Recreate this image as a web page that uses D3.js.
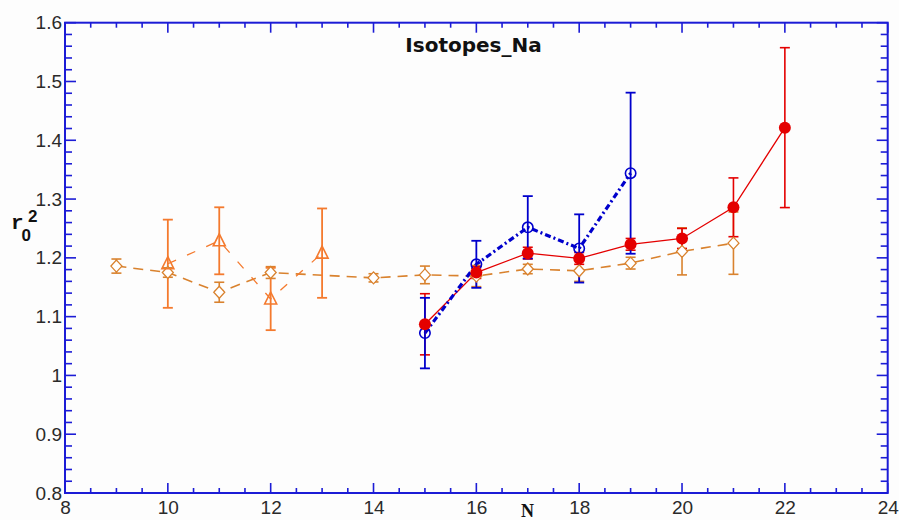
<!DOCTYPE html>
<html>
<head>
<meta charset="utf-8">
<script src="https://cdn.jsdelivr.net/npm/d3@7"></script>
<style>
  html, body { margin:0; padding:0; background:#fdfdfd; }
  svg { display:block; }
</style>
</head>
<body>
<svg id="chart" width="899" height="520"></svg>
<script>
// ---- data ----
const diamondN   = [9, 10, 11, 12, 14, 15, 16, 17, 18, 19, 20, 21];
const diamondVal = [1.186, 1.175, 1.1415, 1.175, 1.166, 1.171, 1.169, 1.181, 1.178, 1.191, 1.211, 1.225];
const diamondErr = [0.012, 0.008, 0.017, 0.01, 0.007, 0.015, 0.018, 0.008, 0.018, 0.01, 0.04, 0.053];

const triN   = [10, 11, 12, 13];
const triVal = [1.19, 1.229, 1.13, 1.208];
const triErr = [0.075, 0.057, 0.053, 0.076];

const redN   = [15, 16, 17, 18, 19, 20, 21, 22];
const redVal = [1.087, 1.175, 1.208, 1.199, 1.223, 1.233, 1.286, 1.4215];
const redErr = [0.052, 0.01, 0.01, 0.01, 0.01, 0.017, 0.05, 0.136];

const blueN   = [15, 16, 17, 18, 19];
const blueVal = [1.072, 1.189, 1.252, 1.216, 1.344];
const blueErr = [0.06, 0.04, 0.053, 0.058, 0.137];

const xTicks = [8, 10, 12, 14, 16, 18, 20, 22, 24];
const yTicks = [0.8, 0.9, 1.0, 1.1, 1.2, 1.3, 1.4, 1.5, 1.6];
const titleText = "Isotopes_Na";

// ---- layout ----
const svg = d3.select("#chart");
const L = 65, T = 22.7, R = 887.7, B = 493;
const x = d3.scaleLinear().domain([8, 24]).range([L, R]);
const y = d3.scaleLinear().domain([0.8, 1.6]).range([B, T]);

const axisCol = "#1c1cd6";
const cDiam = "#d9822e";
const cTri  = "#f47a2e";
const cRed  = "#e40000";
const cBlue = "#0000cc";

// frame
svg.append("rect").attr("x", L).attr("y", T).attr("width", R - L).attr("height", B - T)
  .attr("fill", "none").attr("stroke", axisCol).attr("stroke-width", 2);

// ticks (inward on all four sides)
const xMinor = d3.range(8, 24.001, 0.5);
const yMinor = d3.range(0.8, 1.6001, 0.02);
const tk = svg.append("g").attr("stroke", axisCol).attr("stroke-width", 1.6);
xMinor.forEach(v => {
  const major = Math.abs(v / 2 - Math.round(v / 2)) < 1e-6;
  const len = major ? 10 : 5;
  tk.append("line").attr("x1", x(v)).attr("x2", x(v)).attr("y1", B).attr("y2", B - len);
  tk.append("line").attr("x1", x(v)).attr("x2", x(v)).attr("y1", T).attr("y2", T + len);
});
yMinor.forEach(v => {
  const major = Math.abs(v * 10 - Math.round(v * 10)) < 1e-6;
  const len = major ? 11 : 7;
  tk.append("line").attr("x1", L).attr("x2", L + len).attr("y1", y(v)).attr("y2", y(v));
  tk.append("line").attr("x1", R).attr("x2", R - len).attr("y1", y(v)).attr("y2", y(v));
});

// tick labels via axis generators (lines hidden)
const fontFam = "'Liberation Sans', Arial, sans-serif";
const xAxis = svg.append("g").attr("transform", `translate(0,${B})`)
  .call(d3.axisBottom(x).tickValues(xTicks).tickSize(0).tickPadding(8).tickFormat(d3.format("d")));
xAxis.select(".domain").remove();
xAxis.selectAll("text").attr("font-family", fontFam).attr("font-size", 19).attr("fill", "#2a2a2a")
  .attr("dy", "0.71em");

const yAxis = svg.append("g").attr("transform", `translate(${L},0)`)
  .call(d3.axisLeft(y).tickValues(yTicks).tickSize(0).tickPadding(3)
    .tickFormat(d => (Math.abs(d - 1) < 1e-9 ? "1" : d3.format(".1f")(d))));
yAxis.select(".domain").remove();
yAxis.selectAll("text").attr("font-family", fontFam).attr("font-size", 19).attr("fill", "#2a2a2a");

// title
svg.append("text").attr("x", 473.5).attr("y", 51.5).attr("text-anchor", "middle")
  .attr("font-family", "'DejaVu Sans', Verdana, sans-serif").attr("font-weight", "bold")
  .attr("font-size", 20).attr("fill", "#111").text(titleText);

// axis titles
const yl = svg.append("text").attr("x", 11).attr("y", 229)
  .attr("font-weight", "bold").attr("fill", "#111");
yl.append("tspan").attr("font-family", "'Liberation Mono', 'Courier New', monospace").attr("font-size", 21).text("r");
yl.append("tspan").attr("font-family", fontFam).attr("font-size", 17).attr("dy", 12).attr("dx", -2).text("0");
yl.append("tspan").attr("font-family", fontFam).attr("font-size", 17).attr("dy", -19).attr("dx", -3).text("2");

svg.append("text").attr("x", 527.5).attr("y", 517).attr("text-anchor", "middle")
  .attr("font-family", "'Liberation Serif', 'Times New Roman', serif").attr("font-weight", "bold")
  .attr("font-size", 18).attr("fill", "#111").text("N");

// ---- series ----
const mk = (ns, vs, es) => ns.map((n, i) => ({ n, v: vs[i], e: es[i] }));
const dDiam = mk(diamondN, diamondVal, diamondErr);
const dTri  = mk(triN, triVal, triErr);
const dRed  = mk(redN, redVal, redErr);
const dBlue = mk(blueN, blueVal, blueErr);

const line = d3.line().x(d => x(d.n)).y(d => y(d.v));
const plot = svg.append("g");

plot.append("path").datum(dDiam).attr("d", line).attr("fill", "none")
  .attr("stroke", cDiam).attr("stroke-width", 1.6).attr("stroke-dasharray", "10,7");
plot.append("path").datum(dTri).attr("d", line).attr("fill", "none")
  .attr("stroke", cTri).attr("stroke-width", 1.3).attr("stroke-dasharray", "9,12");
plot.append("path").datum(dRed).attr("d", line).attr("fill", "none")
  .attr("stroke", cRed).attr("stroke-width", 1.3);
plot.append("path").datum(dBlue).attr("d", line).attr("fill", "none")
  .attr("stroke", cBlue).attr("stroke-width", 3.2).attr("stroke-dasharray", "6,3,2,3");

function errBars(data, col, w) {
  const g = plot.append("g").attr("stroke", col).attr("stroke-width", w);
  data.forEach(d => {
    const cx = x(d.n);
    g.append("line").attr("x1", cx).attr("x2", cx).attr("y1", y(d.v - d.e)).attr("y2", y(d.v + d.e));
    g.append("line").attr("x1", cx - 5).attr("x2", cx + 5).attr("y1", y(d.v - d.e)).attr("y2", y(d.v - d.e));
    g.append("line").attr("x1", cx - 5).attr("x2", cx + 5).attr("y1", y(d.v + d.e)).attr("y2", y(d.v + d.e));
  });
}
errBars(dDiam, cDiam, 1.6);
errBars(dTri, cTri, 1.8);
errBars(dRed, cRed, 1.6);
errBars(dBlue, cBlue, 1.8);

// markers
plot.append("g").selectAll("path").data(dDiam).join("path")
  .attr("d", d => { const cx = x(d.n), cy = y(d.v); return `M${cx},${cy-6}L${cx+5.5},${cy}L${cx},${cy+6}L${cx-5.5},${cy}Z`; })
  .attr("fill", "#fff").attr("stroke", cDiam).attr("stroke-width", 1.3);
plot.append("g").selectAll("path").data(dTri).join("path")
  .attr("d", d => { const cx = x(d.n), cy = y(d.v); return `M${cx},${cy-7}L${cx+6},${cy+5}L${cx-6},${cy+5}Z`; })
  .attr("fill", "none").attr("stroke", cTri).attr("stroke-width", 1.6);
plot.append("g").selectAll("circle").data(dBlue).join("circle")
  .attr("cx", d => x(d.n)).attr("cy", d => y(d.v)).attr("r", 5.2)
  .attr("fill", "none").attr("stroke", cBlue).attr("stroke-width", 1.6);
plot.append("g").selectAll("circle").data(dRed).join("circle")
  .attr("cx", d => x(d.n)).attr("cy", d => y(d.v)).attr("r", 6)
  .attr("fill", cRed).attr("stroke", "none");
</script>
</body>
</html>
